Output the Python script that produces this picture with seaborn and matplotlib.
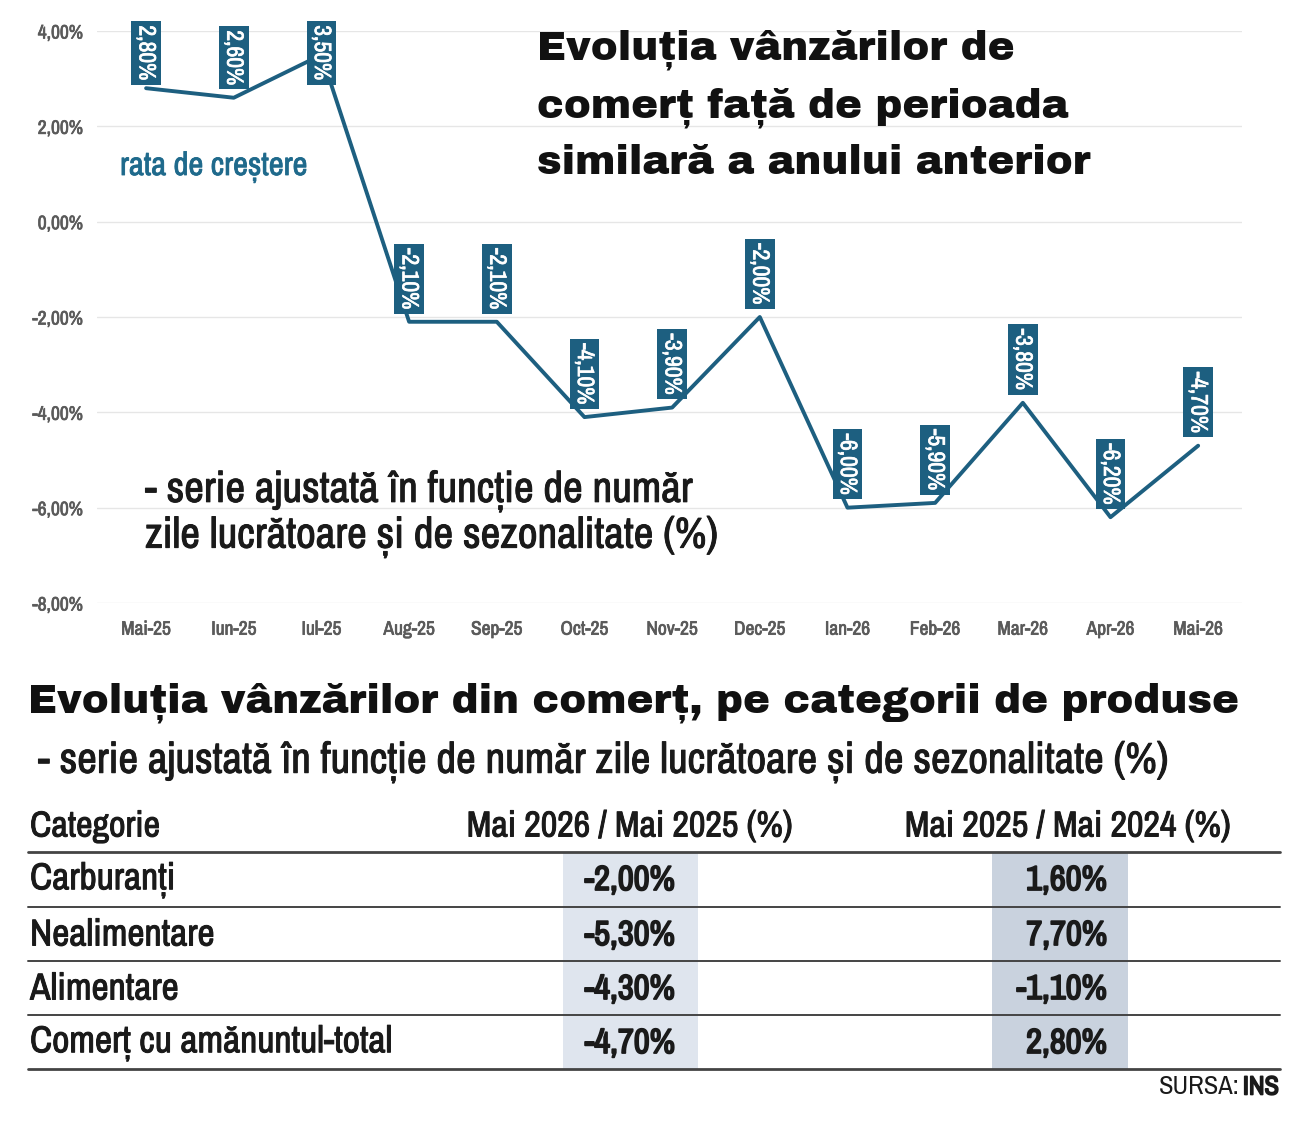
import numpy as np
import pandas as pd
import matplotlib
matplotlib.use("Agg")
import matplotlib.pyplot as plt
import matplotlib.patheffects as pe
import seaborn as sns

# =============================
# Data
# =============================
months = ['Mai-25', 'Iun-25', 'Iul-25', 'Aug-25', 'Sep-25', 'Oct-25', 'Nov-25',
          'Dec-25', 'Ian-26', 'Feb-26', 'Mar-26', 'Apr-26', 'Mai-26']
growth = [2.8, 2.6, 3.5, -2.1, -2.1, -4.1, -3.9, -2.0, -6.0, -5.9, -3.8, -6.2, -4.7]

categories = ['Carburanți', 'Nealimentare', 'Alimentare', 'Comerț cu amănuntul-total']
col_2026 = ['-2,00%', '-5,30%', '-4,30%', '-4,70%']
col_2025 = ['1,60%', '7,70%', '-1,10%', '2,80%']

df = pd.DataFrame({'Luna': months, 'Rata': growth})

# =============================
# Style
# =============================
sns.set_theme(style="whitegrid")
NARROW = ['Archivo Narrow', 'Liberation Sans', 'DejaVu Sans']
HEAVY = ['Archivo Black', 'Liberation Sans', 'DejaVu Sans']
plt.rcParams['font.family'] = NARROW
BLUE = '#1d5f80'
GRAY = '#5a5a5a'
INK = '#1a1a1a'


def bold(color, w=1.2):
    # Archivo Narrow ships without a bold face, so thicken the strokes
    return [pe.withStroke(linewidth=w, foreground=color)]


fig = plt.figure(figsize=(13, 11.22), dpi=100)
ax = fig.add_axes([97 / 1300, 1 - 603 / 1122, (1242 - 97) / 1300, (603 - 31) / 1122])

sns.lineplot(data=df, x='Luna', y='Rata', sort=False, color=BLUE, linewidth=2.8, ax=ax)

ax.set_ylim(-8, 4)
ax.set_xlim(-0.56, 12.5)
ax.set_yticks(np.arange(-8, 5, 2))
ax.set_yticklabels([f'{v:.2f}%'.replace('.', ',') for v in np.arange(-8, 5, 2)])
ax.set_xlabel('')
ax.set_ylabel('')
ax.grid(axis='x', visible=False)
ax.grid(axis='y', color='#e6e6e6', linewidth=1)
for s in ax.spines.values():
    s.set_visible(False)
ax.tick_params(axis='both', length=0, colors=GRAY, labelsize=14)
ax.tick_params(axis='y', pad=10)
ax.tick_params(axis='x', pad=12)
for lab in ax.get_xticklabels() + ax.get_yticklabels():
    lab.set_color(GRAY)
    lab.set_path_effects(bold(GRAY, 0.5))

# value labels (rotated boxes above each point, pushed down near the top edge)
pt_per_unit = (603 - 31) / 12 * 0.72
box_pt = 47
top_limit = 4 + 16 / ((603 - 31) / 12)
for i, v in enumerate(growth):
    txt = f'{v:.2f}%'.replace('.', ',')
    off = min(9, (top_limit - v) * pt_per_unit - box_pt)
    ax.annotate(txt, xy=(i, v), xytext=(0, off), textcoords='offset points',
                rotation=-90, ha='center', va='bottom', color='white',
                fontsize=17, annotation_clip=False, path_effects=bold('white', 0.5),
                bbox=dict(boxstyle='square,pad=0.18', fc=BLUE, ec='none'))

fig.text(120 / 1300, 1 - 167 / 1122, 'rata de creștere', color='#1f6a8c',
         fontsize=23.5, va='center', ha='left', path_effects=bold('#1f6a8c', 0.6))

fig.text(537 / 1300, 1 - 106 / 1122,
         'Evoluția vânzărilor de\ncomerț față de perioada\nsimilară a anului anterior',
         fontsize=29, color='#111111', va='center', ha='left',
         linespacing=1.55, family=HEAVY)

fig.text(145 / 1300, 1 - 514 / 1122,
         '- serie ajustată în funcție de număr\nzile lucrătoare și de sezonalitate (%)',
         fontsize=31, color=INK, va='center', ha='left', linespacing=1.17,
         path_effects=bold(INK, 0.7))

# =============================
# Table section
# =============================
fig.text(28 / 1300, 1 - 703 / 1122,
         'Evoluția vânzărilor din comerț, pe categorii de produse',
         fontsize=29, color='#111111', va='center', ha='left', family=HEAVY)
fig.text(38 / 1300, 1 - 762 / 1122,
         '- serie ajustată în funcție de număr zile lucrătoare și de sezonalitate (%)',
         fontsize=31, color=INK, va='center', ha='left', path_effects=bold(INK, 0.7))

tab = fig.add_axes([0, 0, 1, 1], facecolor='none')
tab.set_xlim(0, 1300)
tab.set_ylim(1122, 0)
tab.axis('off')

tab.add_patch(plt.Rectangle((563, 852), 135, 217, fc='#dfe5ee', ec='none'))
tab.add_patch(plt.Rectangle((992, 852), 136, 217, fc='#c9d2de', ec='none'))

header_y = 826
hdr = dict(fontsize=26, color=INK, va='center', path_effects=bold(INK, 0.7))
tab.text(30, header_y, 'Categorie', ha='left', **hdr)
tab.text(630, header_y, 'Mai 2026 / Mai 2025 (%)', ha='center', **hdr)
tab.text(1068, header_y, 'Mai 2025 / Mai 2024 (%)', ha='center', **hdr)

line_ys = [852, 907, 961, 1015, 1069]
for k, y in enumerate(line_ys):
    tab.plot([28, 1280], [y, y], color='#444444', lw=2.0 if k in (0, 4) else 1.4)

row_ys = [880, 935, 989, 1043]
for name, a, b, y in zip(categories, col_2026, col_2025, row_ys):
    tab.text(30, y, name, fontsize=27, color=INK, va='center', ha='left',
             path_effects=bold(INK, 0.7))
    tab.text(675, y, a, fontsize=25, color=INK, va='center', ha='right',
             path_effects=bold(INK, 1.3))
    tab.text(1107, y, b, fontsize=25, color=INK, va='center', ha='right',
             path_effects=bold(INK, 1.3))

tab.text(1240, 1087, 'SURSA:', fontsize=19, color=INK, va='center', ha='right')
tab.text(1279, 1087, 'INS', fontsize=19, color=INK, va='center', ha='right',
         path_effects=bold(INK, 1.2))

fig.savefig('out.png', dpi=100, facecolor='white')
